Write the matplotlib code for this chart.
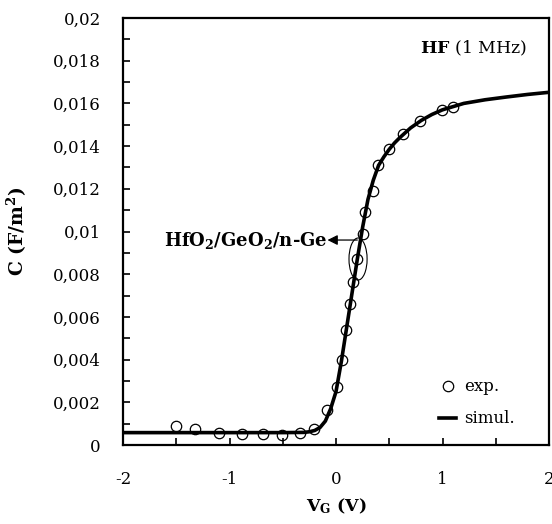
import matplotlib
matplotlib.use("Agg")
import matplotlib.pyplot as plt
from matplotlib.patches import Ellipse
from matplotlib.ticker import MultipleLocator, FixedLocator, FixedFormatter

# experimental points (V, F/m^2)
exp_v = [-1.50, -1.32, -1.10, -0.885, -0.69, -0.51, -0.34, -0.21, -0.08,
         0.006, 0.053, 0.094, 0.131, 0.162, 0.20, 0.256, 0.272, 0.345, 0.397,
         0.50, 0.626, 0.789, 0.998, 1.10]
exp_c = [0.00089, 0.00074, 0.00055, 0.00052, 0.00052, 0.00048, 0.00055, 0.00076, 0.00162,
         0.0027, 0.0040, 0.0054, 0.0066, 0.00765, 0.0087, 0.0099, 0.0109, 0.0119, 0.0131,
         0.01385, 0.01457, 0.01518, 0.01569, 0.01585]

# simulated curve
sim_v = [-2.0, -1.0, -0.5, -0.3, -0.25, -0.2, -0.15, -0.1, -0.05, 0.0, 0.05, 0.1,
         0.15, 0.2, 0.25, 0.3, 0.35, 0.4, 0.45, 0.5, 0.55, 0.6, 0.7, 0.8, 0.9, 1.0,
         1.2, 1.4, 1.6, 1.8, 2.0]
sim_c = [0.00058, 0.00058, 0.00058, 0.00059, 0.00062, 0.00068, 0.00082, 0.00112, 0.0017,
         0.0025, 0.0039, 0.0055, 0.0071, 0.0087, 0.0102, 0.0115, 0.0124, 0.0131, 0.0135,
         0.01385, 0.01415, 0.0144, 0.01485, 0.0152, 0.01548, 0.0157, 0.0160, 0.01617,
         0.0163, 0.01642, 0.01652]

x_ticks = [-2, -1, 0, 1, 2]
x_labels = ["-2", "-1", "0", "1", "2"]
y_ticks = [0, 0.002, 0.004, 0.006, 0.008, 0.01, 0.012, 0.014, 0.016, 0.018, 0.02]
y_labels = ["0", "0,002", "0,004", "0,006", "0,008", "0,01", "0,012", "0,014",
            "0,016", "0,018", "0,02"]

plt.rcParams['font.family'] = ['DejaVu Serif']
plt.rcParams['mathtext.fontset'] = 'dejavuserif'

fig = plt.figure(figsize=(5.52, 5.24), dpi=100)
ax = fig.add_axes([123/552, 1-445/524, (549-123)/552, (445-18)/524])

ax.plot(exp_v, exp_c, linestyle='none', marker='o', markersize=7.5,
        markerfacecolor='none', markeredgecolor='black', markeredgewidth=0.9,
        label='exp.', zorder=4)
ax.plot(sim_v, sim_c, color='black', lw=2.6, label='simul.', zorder=3)

ax.set_xlim(-2, 2)
ax.set_ylim(0, 0.02)
ax.xaxis.set_major_locator(FixedLocator(x_ticks))
ax.xaxis.set_major_formatter(FixedFormatter(x_labels))
ax.xaxis.set_minor_locator(MultipleLocator(0.5))
ax.yaxis.set_major_locator(FixedLocator(y_ticks))
ax.yaxis.set_major_formatter(FixedFormatter(y_labels))
ax.yaxis.set_minor_locator(MultipleLocator(0.001))

ax.tick_params(axis='both', which='both', direction='in', length=5, width=1.2,
               labelsize=12)
ax.tick_params(axis='x', which='major', pad=19)
ax.tick_params(axis='y', which='major', pad=16)
for s in ax.spines.values():
    s.set_linewidth(1.6)

ax.set_xlabel(r'$\mathbf{V_G}$ (V)', fontsize=12.5, fontweight='bold', labelpad=6)
ax.set_ylabel(r'C (F/m$^\mathbf{2}$)', fontsize=13.5, fontweight='bold', labelpad=17)

# annotation
ax.add_patch(Ellipse((0.207, 0.00871), 0.17, 0.00197, fill=False, lw=0.8,
                     edgecolor='black', zorder=5))
ax.text(-0.075, 0.0096, r'HfO$_\mathbf{2}$/GeO$_\mathbf{2}$/n-Ge', fontsize=13,
        fontweight='bold', ha='right', va='center')
ax.annotate('', xy=(-0.08, 0.0096), xytext=(0.2, 0.0096),
            arrowprops=dict(arrowstyle='-|>', color='black', lw=0.9,
                            mutation_scale=15, shrinkA=0, shrinkB=0))

ax.text(1.79, 0.0186, r'$\mathbf{HF}$ (1 MHz)', fontsize=12.5, ha='right', va='center')

leg = ax.legend(loc='lower right', bbox_to_anchor=(0.955, 0.006), frameon=False,
                fontsize=12, handlelength=1.0, handletextpad=0.5,
                labelspacing=0.9, borderaxespad=0.5)
fig.savefig('out.png', dpi=100)
